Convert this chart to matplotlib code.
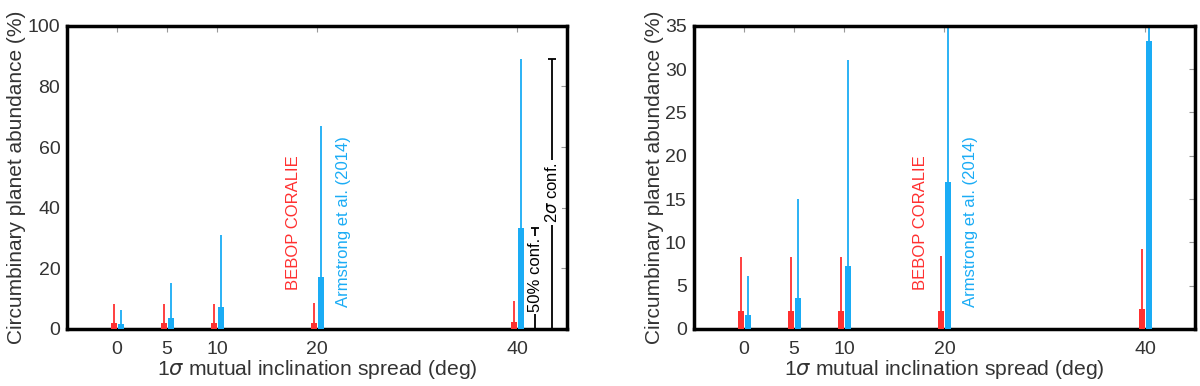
import matplotlib.pyplot as plt
import numpy as np

plt.rcParams['font.family'] = ['Liberation Sans', 'DejaVu Sans']
plt.rcParams['mathtext.fontset'] = 'dejavusans'

# разброс взаимного наклона (град)
spread = np.array([0, 5, 10, 20, 40])

# BEBOP CORALIE: 50% и верхняя граница 2 сигма
bebop_50 = [2.1, 2.1, 2.1, 2.1, 2.3]
bebop_2s = [8.3, 8.3, 8.3, 8.4, 9.2]

# Armstrong et al. (2014)
arm_50 = [1.6, 3.6, 7.3, 17.0, 33.3]
arm_2s = [6.1, 15.0, 31.1, 67.0, 89.0]

xticks = [0, 5, 10, 20, 40]

red = '#ff3030'
blue = '#1aacf5'

fig = plt.figure(figsize=(12, 3.86), dpi=100)
ax1 = fig.add_axes([0.056, 0.148, 0.4165, 0.785])
ax2 = fig.add_axes([0.578, 0.148, 0.418, 0.785])


def draw(ax, ymax, yticks):
    ax.vlines(spread - 0.3, 0, bebop_2s, color=red, lw=1.3, zorder=2)
    ax.vlines(spread + 0.4, 0, arm_2s, color=blue, lw=1.3, zorder=2)
    ax.bar(spread - 0.3, bebop_50, width=0.6, color=red, zorder=3)
    ax.bar(spread + 0.4, arm_50, width=0.6, color=blue, zorder=3)
    ax.set_xlim(-5, 45)
    ax.set_ylim(0, ymax)
    ax.set_xticks(xticks)
    ax.set_yticks(yticks)
    ax.tick_params(axis='both', direction='in', left=False, bottom=False,
                   top=True, right=True, labelsize=14, colors='#999999',
                   labelcolor='#333333', length=4, pad=5)
    ax.tick_params(axis='x', pad=9)
    for s in ax.spines.values():
        s.set_linewidth(2.5)
    ax.set_xlabel(r'1$\sigma$ mutual inclination spread (deg)', fontsize=15.2,
                  color='#333333', labelpad=0)
    ax.set_ylabel('Circumbinary planet abundance (%)', fontsize=15,
                  color='#333333', labelpad=1)


draw(ax1, 100, [0, 20, 40, 60, 80, 100])
draw(ax2, 35, [0, 5, 10, 15, 20, 25, 30, 35])

# подписи наборов данных
ax1.text(17.6, 12.9, 'BEBOP CORALIE', rotation=90, color=red, fontsize=12,
         ha='center', va='bottom')
ax1.text(22.6, 7.3, 'Armstrong et al. (2014)', rotation=90, color=blue,
         fontsize=12, ha='center', va='bottom')
ax2.text(17.6, 4.5, 'BEBOP CORALIE', rotation=90, color=red, fontsize=12,
         ha='center', va='bottom')
ax2.text(22.6, 2.5, 'Armstrong et al. (2014)', rotation=90, color=blue,
         fontsize=12, ha='center', va='bottom')

# легенда-пояснение интервалов
ax1.vlines(41.8, 0, arm_50[-1], color='black', lw=1.3)
ax1.plot(41.8, arm_50[-1], marker='_', color='black', ms=6, mew=1.3)
ax1.text(41.8, 17.8, '50% conf.', rotation=90, fontsize=12, ha='center',
         va='center', bbox=dict(facecolor='white', edgecolor='none', pad=1.5))
ax1.vlines(43.5, 0, arm_2s[-1], color='black', lw=1.3)
ax1.plot(43.5, arm_2s[-1], marker='_', color='black', ms=6, mew=1.3)
ax1.text(43.5, 45, r'2$\sigma$ conf.', rotation=90, fontsize=12, ha='center',
         va='center', bbox=dict(facecolor='white', edgecolor='none', pad=1.5))

plt.savefig('out.png', dpi=100)
